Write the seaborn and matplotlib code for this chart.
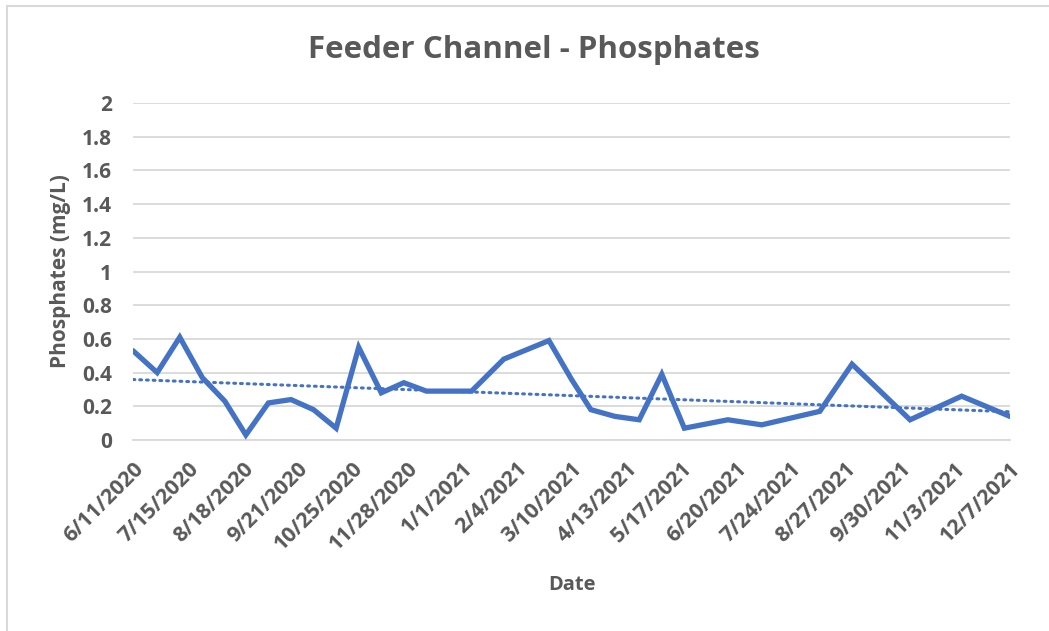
import numpy as np
import pandas as pd
import matplotlib
matplotlib.use("Agg")
import matplotlib.pyplot as plt
import matplotlib.dates as mdates
from matplotlib.lines import Line2D
import seaborn as sns

# sample dates and phosphate readings (mg/L)
dates = [
    "2020-06-11", "2020-06-26", "2020-07-10", "2020-07-24", "2020-08-07",
    "2020-08-20", "2020-09-03", "2020-09-17", "2020-10-01", "2020-10-15",
    "2020-10-29", "2020-11-12", "2020-11-26", "2020-12-10", "2021-01-07",
    "2021-01-27", "2021-02-24", "2021-03-10", "2021-03-22", "2021-04-06",
    "2021-04-21", "2021-05-05", "2021-05-19", "2021-06-15", "2021-07-06",
    "2021-08-11", "2021-08-31", "2021-10-06", "2021-11-07", "2021-12-07",
]
phosphates = [
    0.53, 0.40, 0.61, 0.37, 0.23,
    0.03, 0.22, 0.24, 0.18, 0.07,
    0.55, 0.28, 0.34, 0.29, 0.29,
    0.48, 0.59, 0.36, 0.18, 0.14,
    0.12, 0.39, 0.07, 0.12, 0.09,
    0.17, 0.45, 0.12, 0.26, 0.14,
]

df = pd.DataFrame({"Date": pd.to_datetime(dates), "Phosphates": phosphates})

blue = "#4472C4"
grey_text = "#595959"
grid_col = "#D9D9D9"

sns.set_style("white")
plt.rcParams["font.family"] = ["Open Sans", "DejaVu Sans"]

fig = plt.figure(figsize=(10.49, 6.31), dpi=100)
ax = fig.add_axes([133 / 1049, 1 - 440 / 631, (1010 - 133) / 1049, (440 - 103) / 631])

sns.lineplot(data=df, x="Date", y="Phosphates", color=blue, linewidth=3.8,
             ax=ax, solid_joinstyle="miter", zorder=3)

# linear trendline
xnum = mdates.date2num(df["Date"])
slope, intercept = np.polyfit(xnum, df["Phosphates"], 1)
start, end = pd.Timestamp("2020-06-11"), pd.Timestamp("2021-12-07")
tx = np.array([mdates.date2num(start), mdates.date2num(end)])
ax.plot(tx, slope * tx + intercept, color=blue, linewidth=2.2,
        linestyle=(0, (0.6, 1.6)), dash_capstyle="round", zorder=2)

ax.set_xlim(start, end)
ax.set_ylim(0, 2)
ax.set_yticks(np.arange(0, 2.01, 0.2))
ax.set_yticklabels(["0", "0.2", "0.4", "0.6", "0.8", "1", "1.2", "1.4", "1.6", "1.8", "2"])

ticks = pd.date_range(start, end, freq="34D")
ax.set_xticks(ticks)
ax.set_xticklabels([f"{d.month}/{d.day}/{d.year}" for d in ticks],
                   rotation=45, ha="right", rotation_mode="anchor")

ax.grid(axis="y", color=grid_col, linewidth=1.3, zorder=0)
ax.grid(axis="x", visible=False)
for s in ["top", "right", "left"]:
    ax.spines[s].set_visible(False)
ax.spines["bottom"].set_color(grid_col)
ax.spines["bottom"].set_linewidth(1.3)

ax.tick_params(axis="x", which="major", length=6, width=1.3, color=grid_col,
               labelsize=15.5, labelcolor=grey_text, pad=7)
ax.tick_params(axis="y", length=0, labelsize=15, labelcolor=grey_text, pad=15)
for lbl in ax.get_xticklabels() + ax.get_yticklabels():
    lbl.set_fontweight("bold")

ax.set_xlabel("Date", fontsize=14.5, fontweight="bold", color=grey_text)
ax.set_ylabel("Phosphates (mg/L)", fontsize=15, fontweight="bold", color=grey_text)
ax.xaxis.set_label_coords(0.5006, -0.43)
ax.xaxis.label.set_va("center")
ax.yaxis.set_label_coords(-0.083, 0.5)
ax.yaxis.label.set_va("center")

fig.text(534 / 1049, 1 - 50 / 631, "Feeder Channel - Phosphates", ha="center", va="center",
         fontsize=22.5, fontweight="bold", color=grey_text)

# chart frame (left and top edges visible)
fig.add_artist(Line2D([7 / 1049, 7 / 1049], [0, 1 - 6 / 631], transform=fig.transFigure,
                      color=grid_col, linewidth=1.5))
fig.add_artist(Line2D([7 / 1049, 1], [1 - 6 / 631, 1 - 6 / 631], transform=fig.transFigure,
                      color=grid_col, linewidth=1.5))

fig.savefig("out.png", dpi=100, facecolor="white")
